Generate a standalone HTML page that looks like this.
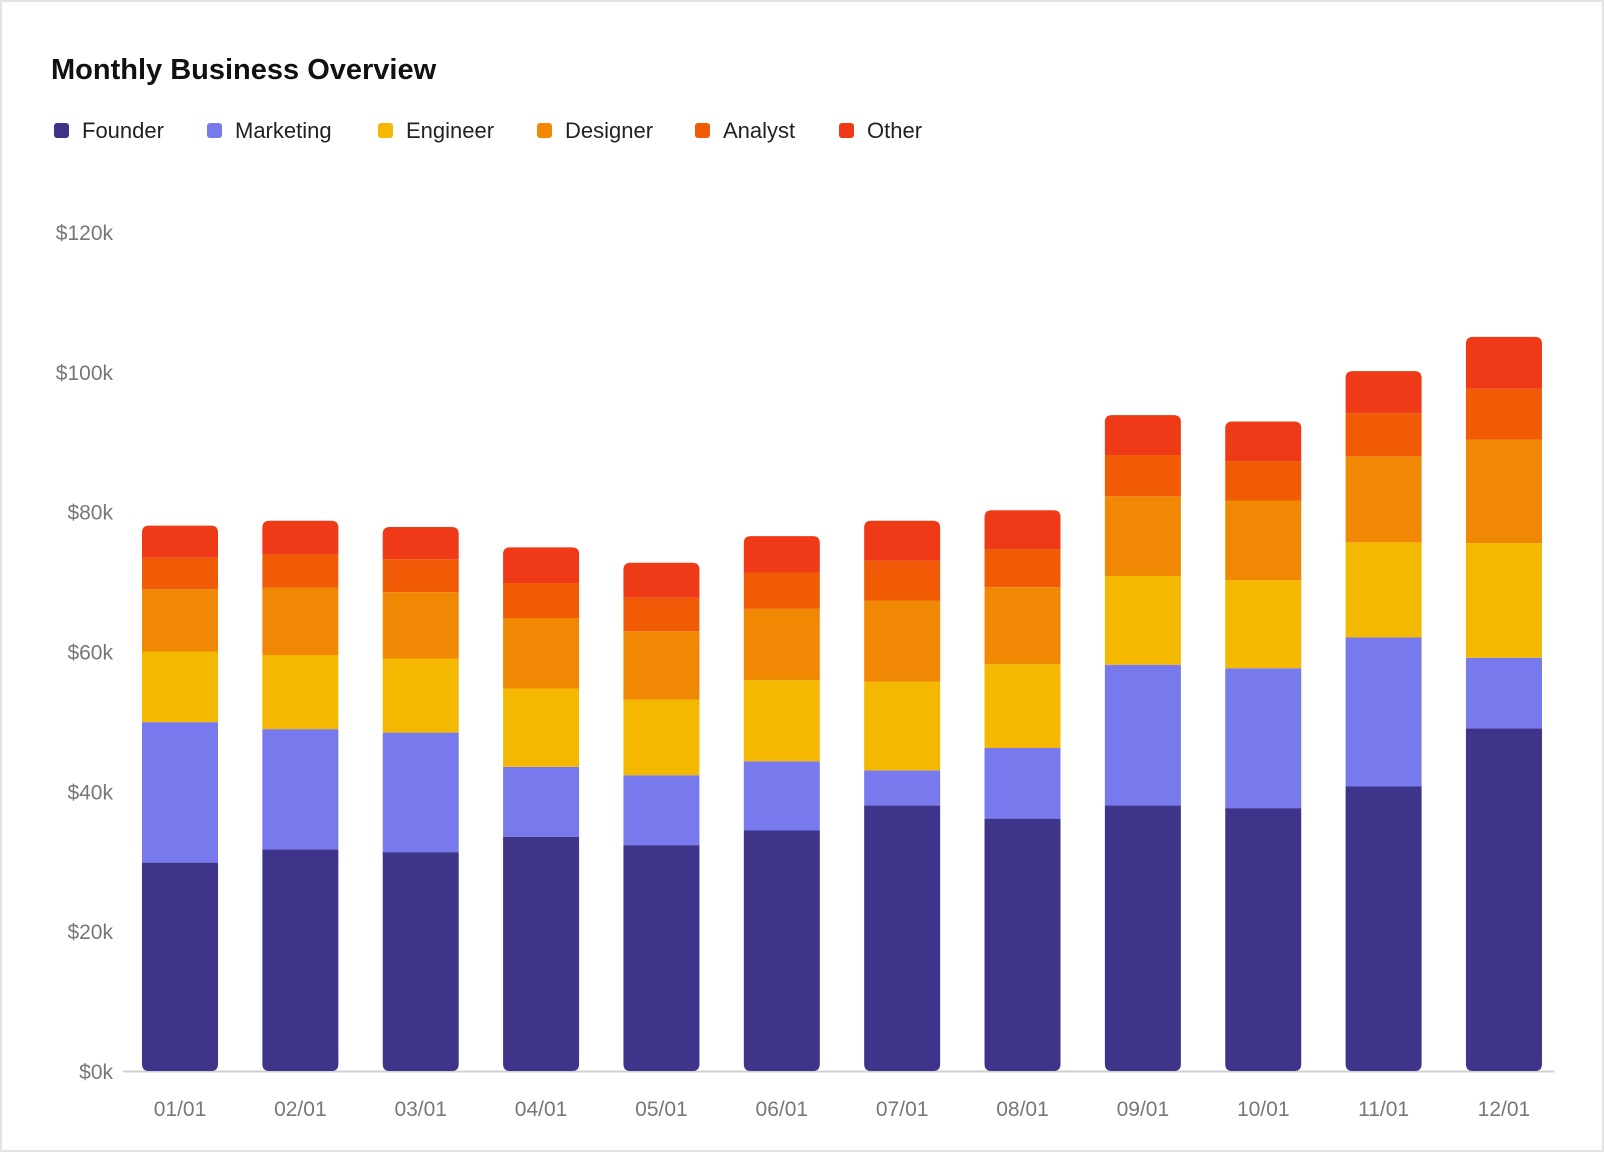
<!DOCTYPE html>
<html><head><meta charset="utf-8"><style>
html,body{margin:0;padding:0;background:#fff}
svg{display:block;font-family:"Liberation Sans",sans-serif}
</style></head><body>
<svg id="chart" width="1604" height="1152" viewBox="0 0 1604 1152">
<rect x="1" y="1" width="1602" height="1150" fill="#fff" stroke="#e3e3e3" stroke-width="2"/>
<text x="51" y="79" font-size="29" font-weight="bold" fill="#111">Monthly Business Overview</text>
<g id="legend"></g>
<g id="grid"></g>
<g id="bars"></g>
<g id="xaxis"></g>
</svg>
<script>
const categories = ["01/01","02/01","03/01","04/01","05/01","06/01","07/01","08/01","09/01","10/01","11/01","12/01"];
const seriesNames = ["Founder","Marketing","Engineer","Designer","Analyst","Other"];
const seriesColors = ["#3e358b","#7779ed","#f5b800","#f08804","#f15b06","#ee3a17"];
const founder   = [29.8,31.7,31.3,33.5,32.3,34.4,38.0,36.1,38.0,37.6,40.7,49.0];
const marketing = [20.1,17.2,17.1,10.0,10.0,9.9,5.0,10.1,20.1,20.0,21.3,10.1];
const engineer  = [10.1,10.6,10.6,11.2,10.8,11.6,12.7,12.0,12.7,12.6,13.6,16.4];
const designer  = [8.9,9.6,9.5,10.1,9.8,10.2,11.6,11.0,11.4,11.4,12.3,14.8];
const analyst   = [4.5,4.8,4.7,5.0,4.8,5.2,5.7,5.4,5.9,5.6,6.2,7.3];
const other     = [4.6,4.8,4.6,5.1,5.0,5.2,5.7,5.6,5.7,5.7,6.0,7.4];
const yTicks = [0,20,40,60,80,100,120];
const yTickLabels = ["$0k","$20k","$40k","$60k","$80k","$100k","$120k"];

const series = [founder,marketing,engineer,designer,analyst,other];
const NS = "http://www.w3.org/2000/svg";
const y0 = 1071, yTop = 232, yMax = 120;
const xStart = 142, step = 120.36, bw = 76, r = 7;
const yScale = v => y0 - v / yMax * (y0 - yTop);
const xScale = i => xStart + i * step;
function mk(tag, attrs, parent){ const e=document.createElementNS(NS,tag); for(const k in attrs) e.setAttribute(k,attrs[k]); parent.appendChild(e); return e; }

const legend = document.getElementById('legend');
const legX = [54,207,378,537,695,839];
seriesNames.forEach((n,i)=>{
  const g = mk('g',{},legend);
  
  
  mk('rect',{x:legX[i],y:123,width:15,height:15,rx:3,fill:seriesColors[i]},g);
  const t = mk('text',{x:legX[i]+28,y:138,'font-size':22,fill:'#222'},g);
  t.textContent = n;
});

const grid = document.getElementById('grid');
yTicks.forEach((v,i)=>{
  const t = mk('text',{x:113,y:yScale(v)+8,'text-anchor':'end','font-size':21,fill:'#777'},grid);
  
  
  t.textContent = yTickLabels[i];
});
const axisLine = mk('line',{x1:123,x2:1554,y1:y0+0.5,y2:y0+0.5,stroke:'#d0d0d0','stroke-width':2},grid);



const bars = document.getElementById('bars');
categories.forEach((c,i)=>{
  const x = xScale(i);
  let cum = 0;
  const g = mk('g',{},bars);
  
  
  series.forEach((s,j)=>{
    const yb = yScale(cum), yt = yScale(cum + s[i]);
    cum += s[i];
    const top = j === series.length-1, bot = j === 0;
    const rt = top ? r : 0, rb = bot ? r : 0;
    const d = `M${x},${yt+rt} Q${x},${yt} ${x+rt},${yt} L${x+bw-rt},${yt} Q${x+bw},${yt} ${x+bw},${yt+rt} L${x+bw},${yb-rb} Q${x+bw},${yb} ${x+bw-rb},${yb} L${x+rb},${yb} Q${x},${yb} ${x},${yb-rb} Z`;
    const p = mk('path',{d:d,fill:seriesColors[j]},g);
    
    
  });
});

const xaxis = document.getElementById('xaxis');
categories.forEach((c,i)=>{
  const t = mk('text',{x:xScale(i)+bw/2,y:1116,'text-anchor':'middle','font-size':21,fill:'#777'},xaxis);
  
  
  t.textContent = c;
});
</script>
</body></html>
